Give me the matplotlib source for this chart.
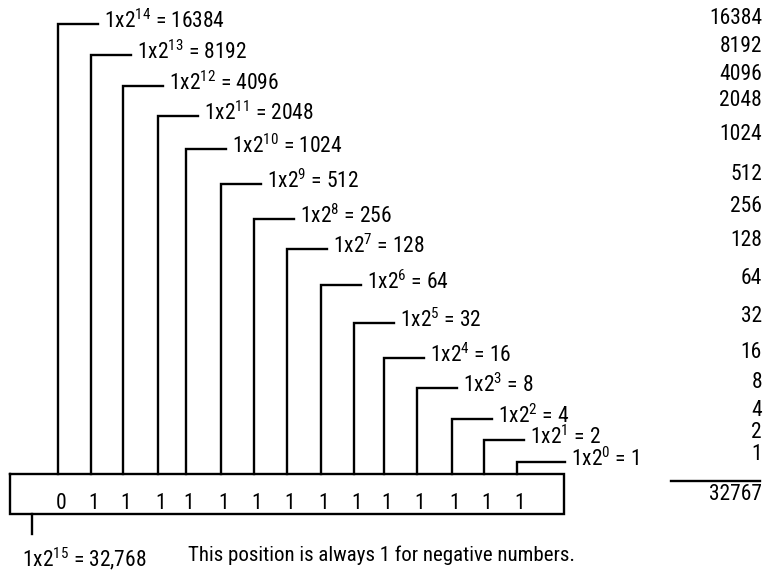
import matplotlib
matplotlib.use("Agg")
import matplotlib.pyplot as plt

# ---- data ----
exponents = [14, 13, 12, 11, 10, 9, 8, 7, 6, 5, 4, 3, 2, 1, 0]
values = [2 ** e for e in exponents]
bits = [0] + [1] * 14
total = 32767
sign_label = "1x2$^{15}$ = 32,768"
note = "This position is always 1 for negative numbers."

# ---- layout (pixels) ----
bit_x = [58, 91, 123, 158, 186, 221, 254, 287, 321, 354, 384, 417, 452, 484, 517]
label_y = [24, 55, 86, 116, 149, 184, 219, 249, 285, 323, 358, 388, 419, 440, 462]
right_y = [16, 45, 73, 99, 133, 173, 204, 238, 276, 315, 350, 380, 409, 431, 453]

fam = "Roboto Condensed"
plt.rcParams["font.family"] = [fam, "DejaVu Sans"]
plt.rcParams["mathtext.fontset"] = "custom"
plt.rcParams["mathtext.rm"] = fam
plt.rcParams["mathtext.it"] = fam
plt.rcParams["mathtext.bf"] = fam

W, H = 768, 573
fig = plt.figure(figsize=(W / 100, H / 100), dpi=100)
ax = fig.add_axes([0, 0, 1, 1])
ax.set_xlim(0, W)
ax.set_ylim(H, 0)
ax.axis("off")

lw = 1.7
fs = 15.5
half_digit = 7.5
box_l, box_r, box_t, box_b = 10, 564, 474, 514

# box
ax.plot([box_l, box_r, box_r, box_l, box_l], [box_t, box_t, box_b, box_b, box_t],
        color="black", lw=lw, solid_joinstyle="miter")

for i, (e, v) in enumerate(zip(exponents, values)):
    x = bit_x[i]
    y = label_y[i]
    x_end = x + 40 if e > 0 else box_r + 1
    ax.plot([x, x, x_end], [box_t, y, y], color="black", lw=lw, solid_joinstyle="miter")
    ax.text(x_end + 6, y + 4, f"1x2$^{{{e}}}$ = {v}", fontsize=fs, va="baseline", ha="left")
    ax.text(x + 3, 509, str(bits[i]), fontsize=fs, va="baseline", ha="center")
    ax.text(762, right_y[i] + half_digit, str(v), fontsize=fs, va="baseline", ha="right")

# sign bit tick
ax.plot([32, 32], [box_b, 534], color="black", lw=lw)
ax.text(22, 566, sign_label, fontsize=fs, va="baseline", ha="left")
ax.text(188, 561, note, fontsize=fs - 0.5, va="baseline", ha="left")

# sum line
ax.plot([671, 760], [481, 481], color="black", lw=lw)
ax.text(762, 493 + half_digit, str(total), fontsize=fs, va="baseline", ha="right")

fig.savefig("out.png", dpi=100)
